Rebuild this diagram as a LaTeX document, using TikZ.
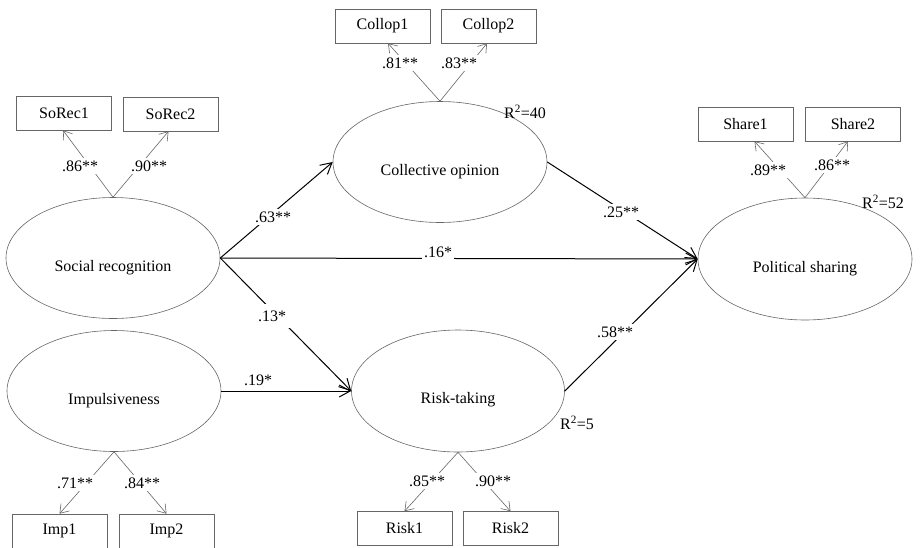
\documentclass[tikz,border=0pt]{standalone}
\usepackage{fontspec}
\setmainfont{Liberation Serif}
\usetikzlibrary{arrows.meta,shapes.geometric}
\begin{document}
\begin{tikzpicture}[x=1pt,y=-1pt,
  every node/.style={font=\fontsize{16}{19}\selectfont},
  lat/.style={ellipse, draw=black!60, line width=0.6pt, inner sep=0pt, minimum width=214pt, minimum height=121pt},
  box/.style={draw=black!60, line width=0.6pt, minimum width=95pt, minimum height=34pt, inner sep=0pt},
  ind/.style={draw=black!60, line width=0.6pt, -{Straight Barb[length=8pt,width=11pt]}},
  struct/.style={draw=black, line width=1pt, -{Straight Barb[length=11pt,width=12pt]}},
  lbl/.style={fill=white, inner sep=3pt},
  rsq/.style={inner sep=0pt},
]
\useasboundingbox (0,0) rectangle (921,547);

% latent variables
\node[lat, label={[yshift=-10pt]center:Social recognition}] (sr) at (113,258) {};
\node[lat, label={[yshift=-10pt]center:Collective opinion}] (co) at (440,162) {};
\node[lat, minimum height=122pt, label={[yshift=-10pt]center:Political sharing}] (ps) at (805,259) {};
\node[lat, label={[yshift=-10pt]center:Impulsiveness}] (imp) at (114,391) {};
\node[lat, minimum width=213pt, minimum height=122pt, label={[yshift=-9pt]center:Risk-taking}] (rt) at (458,391) {};

% indicators
\node[box] (sorec1) at (64,113) {SoRec1};
\node[box] (sorec2) at (170.5,114) {SoRec2};
\node[box] (collop1) at (382.5,26) {Collop1};
\node[box] (collop2) at (488.5,26) {Collop2};
\node[box] (share1) at (745.5,124) {Share1};
\node[box] (share2) at (853,124) {Share2};
\node[box] (imp1) at (59.5,531) {Imp1};
\node[box] (imp2) at (166.5,531) {Imp2};
\node[box] (risk1) at (404.5,528.5) {Risk1};
\node[box] (risk2) at (510.5,528.5) {Risk2};

% measurement connectors
\draw[ind] (sr.north) -- ([xshift=-1pt]sorec1.south);
\draw[ind] (sr.north) -- ([xshift=-2pt]sorec2.south);
\draw[ind] (co.north) -- ([xshift=5.5pt]collop1.south);
\draw[ind] (co.north) -- ([xshift=-1.5pt]collop2.south);
\draw[ind] (ps.north) -- ([xshift=9pt]share1.south);
\draw[ind] (ps.north) -- ([xshift=-5pt]share2.south);
\draw[ind] (imp.south) -- (imp1.north);
\draw[ind] (imp.south) -- (imp2.north);
\draw[ind] (rt.south) -- (risk1.north);
\draw[ind] (rt.south) -- (risk2.north);

% structural paths
\draw[struct] (sr.east) -- (co.west);
\draw[struct] (sr.east) -- (ps.west);
\draw[struct] (sr.east) -- (rt.west);
\draw[struct] (imp.east) -- (rt.west);
\draw[struct] (co.east) -- (ps.west);
\draw[struct] (rt.east) -- (ps.west);

% loading labels
\node[lbl] (l1) at (80,166) {.86**};
\node[lbl] (l2) at (149,166) {.90**};
\node[lbl] (l3) at (400,63) {.81**};
\node[lbl] (l4) at (459,63) {.83**};
\node[lbl] (l5) at (768,170) {.89**};
\node[lbl] (l6) at (832,165) {.86**};
\node[lbl] (l7) at (75,483) {.71**};
\node[lbl] (l8) at (142,483) {.84**};
\node[lbl] (l9) at (427,481) {.85**};
\node[lbl] (l10) at (493,481) {.90**};

% path labels
\node[lbl] (p1) at (273,217) {.63**};
\node[lbl, inner sep=2pt] (p2) at (438,252) {.16*};
\node[lbl, inner sep=7pt] (p3) at (272,316) {.13*};
\node[inner sep=1pt] (p4) at (258,380) {.19*};
\node[lbl] (p5) at (621,212) {.25**};
\node[lbl] (p6) at (615,332) {.58**};

% R squared
\node[rsq] (r1) at (525,112) {R\textsuperscript{2}=40};
\node[rsq] (r2) at (883,202) {R\textsuperscript{2}=52};
\node[rsq] (r3) at (577,423) {R\textsuperscript{2}=5};
\end{tikzpicture}
\end{document}
